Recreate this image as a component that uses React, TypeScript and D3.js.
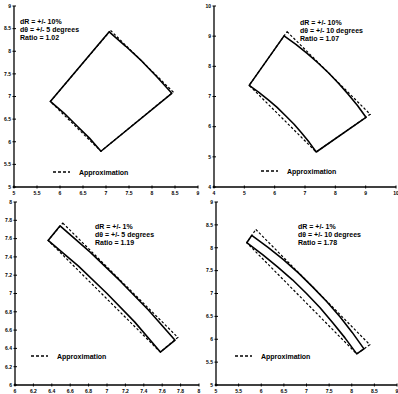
import React from "react";
import * as d3 from "d3";

type Pt = [number, number];

// Panel 1: dR = +/-10%, dθ = +/-5°
const P1_SOLID: Pt[] = [[7.07, 8.43], [7.43, 8.11], [7.78, 7.78], [8.11, 7.43], [8.43, 7.07], [6.89, 5.79], [6.64, 6.08], [6.36, 6.36], [6.08, 6.64], [5.79, 6.89]];
const P1_APPROX: Pt[] = [[7.10, 8.46], [8.46, 7.10], [6.89, 5.79], [5.79, 6.89]];
const P1_LABELS = ["dR = +/- 10%", "dθ = +/- 5 degrees", "Ratio = 1.02"];
const P1_XTICKS = [5, 5.5, 6, 6.5, 7, 7.5, 8, 8.5, 9];
const P1_YTICKS = [5, 5.5, 6, 6.5, 7, 7.5, 8, 8.5, 9];

// Panel 2: dR = +/-10%, dθ = +/-10°
const P2_SOLID: Pt[] = [
  [6.31, 9.01], [6.70, 8.73], [7.07, 8.43], [7.43, 8.11], [7.78, 7.78], [8.11, 7.43], [8.43, 7.07], [8.73, 6.70], [9.01, 6.31],
  [7.37, 5.16], [7.14, 5.48], [6.89, 5.79], [6.64, 6.08], [6.36, 6.36], [6.08, 6.64], [5.79, 6.89], [5.48, 7.14], [5.16, 7.37],
];
const P2_APPROX: Pt[] = [[6.41, 9.15], [9.15, 6.41], [7.37, 5.16], [5.16, 7.37]];
const P2_LABELS = ["dR = +/- 10%", "dθ = +/- 10 degrees", "Ratio = 1.07"];
const P2_XTICKS = [4, 5, 6, 7, 8, 9, 10];
const P2_YTICKS = [4, 5, 6, 7, 8, 9, 10];

// Panel 3: dR = +/-1%, dθ = +/-5°
const P3_SOLID: Pt[] = [[6.49, 7.74], [6.82, 7.45], [7.14, 7.14], [7.45, 6.82], [7.74, 6.49], [7.58, 6.36], [7.30, 6.69], [7.00, 7.00], [6.69, 7.30], [6.36, 7.58]];
const P3_APPROX: Pt[] = [[6.52, 7.77], [7.77, 6.52], [7.58, 6.36], [6.36, 7.58]];
const P3_LABELS = ["dR = +/- 1%", "dθ = +/- 5 degrees", "Ratio = 1.19"];
const P3_XTICKS = [6, 6.2, 6.4, 6.6, 6.8, 7, 7.2, 7.4, 7.6, 7.8, 8];
const P3_YTICKS = [6, 6.2, 6.4, 6.6, 6.8, 7, 7.2, 7.4, 7.6, 7.8, 8];

// Panel 4: dR = +/-1%, dθ = +/-10°
const P4_SOLID: Pt[] = [
  [5.79, 8.27], [6.15, 8.01], [6.49, 7.74], [6.82, 7.45], [7.14, 7.14], [7.45, 6.82], [7.74, 6.49], [8.01, 6.15], [8.27, 5.79],
  [8.11, 5.68], [7.85, 6.03], [7.58, 6.36], [7.30, 6.69], [7.00, 7.00], [6.69, 7.30], [6.36, 7.58], [6.03, 7.85], [5.68, 8.11],
];
const P4_APPROX: Pt[] = [[5.88, 8.40], [8.40, 5.88], [8.11, 5.68], [5.68, 8.11]];
const P4_LABELS = ["dR = +/- 1%", "dθ = +/- 10 degrees", "Ratio = 1.78"];
const P4_XTICKS = [5, 5.5, 6, 6.5, 7, 7.5, 8, 8.5, 9];
const P4_YTICKS = [5, 5.5, 6, 6.5, 7, 7.5, 8, 8.5, 9];

const LEGEND = "Approximation";

type PanelCfg = {
  solid: Pt[];
  approx: Pt[];
  labels: string[];
  xticks: number[];
  yticks: number[];
  x0: number; x1: number; y0: number; y1: number;
  textX: number; textY: number;
  legX: number; legY: number;
};

const panels: PanelCfg[] = [
  { solid: P1_SOLID, approx: P1_APPROX, labels: P1_LABELS, xticks: P1_XTICKS, yticks: P1_YTICKS, x0: 14, x1: 198, y0: 187, y1: 6, textX: 20, textY: 24, legX: 53, legY: 172 },
  { solid: P2_SOLID, approx: P2_APPROX, labels: P2_LABELS, xticks: P2_XTICKS, yticks: P2_YTICKS, x0: 214, x1: 396, y0: 187, y1: 6, textX: 300, textY: 25, legX: 261, legY: 171 },
  { solid: P3_SOLID, approx: P3_APPROX, labels: P3_LABELS, xticks: P3_XTICKS, yticks: P3_YTICKS, x0: 15, x1: 199, y0: 385, y1: 202, textX: 95, textY: 229, legX: 31, legY: 356 },
  { solid: P4_SOLID, approx: P4_APPROX, labels: P4_LABELS, xticks: P4_XTICKS, yticks: P4_YTICKS, x0: 216, x1: 397, y0: 385, y1: 202, textX: 298, textY: 229, legX: 235, legY: 356 },
];

const FONT = "'Liberation Sans', Arial, sans-serif";

function Panel({ cfg }: { cfg: PanelCfg }) {
  const xs = d3.scaleLinear().domain(d3.extent(cfg.xticks) as [number, number]).range([cfg.x0, cfg.x1]);
  const ys = d3.scaleLinear().domain(d3.extent(cfg.yticks) as [number, number]).range([cfg.y0, cfg.y1]);
  const line = d3.line<Pt>().x((d) => xs(d[0])).y((d) => ys(d[1])).curve(d3.curveLinearClosed);
  const fmt = (v: number) => String(v);
  return (
    <g>
      {/* axes */}
      <line x1={cfg.x0} x2={cfg.x0} y1={cfg.y0 + 1} y2={cfg.y1} stroke="#000" strokeWidth={1.3} />
      <line x1={cfg.x0 - 1} x2={cfg.x1} y1={cfg.y0} y2={cfg.y0} stroke="#000" strokeWidth={1.3} />
      {cfg.xticks.map((t) => (
        <g key={"x" + t}>
          <line x1={xs(t)} x2={xs(t)} y1={cfg.y0 - 1.5} y2={cfg.y0 + 1.5} stroke="#000" strokeWidth={1} />
          <text x={xs(t)} y={cfg.y0 + 8} fontSize={5} fontWeight="bold" textAnchor="middle" fontFamily={FONT}>{fmt(t)}</text>
        </g>
      ))}
      {cfg.yticks.map((t) => (
        <g key={"y" + t}>
          <line x1={cfg.x0 - 1.5} x2={cfg.x0 + 2} y1={ys(t)} y2={ys(t)} stroke="#000" strokeWidth={1} />
          <text x={cfg.x0 - 3} y={ys(t) + 1.8} fontSize={5} fontWeight="bold" textAnchor="end" fontFamily={FONT}>{fmt(t)}</text>
        </g>
      ))}
      {/* approximation */}
      <path d={line(cfg.approx) || ""} fill="none" stroke="#000" strokeWidth={1.2} strokeDasharray="2.5,2" />
      {/* true region */}
      <path d={line(cfg.solid) || ""} fill="none" stroke="#000" strokeWidth={1.6} strokeLinejoin="round" />
      {/* annotation */}
      {cfg.labels.map((s, i) => (
        <text key={s} x={cfg.textX} y={cfg.textY + i * 8} fontSize={7} fontWeight="bold" fontFamily={FONT}>{s}</text>
      ))}
      {/* legend */}
      <line x1={cfg.legX} x2={cfg.legX + 17} y1={cfg.legY} y2={cfg.legY} stroke="#000" strokeWidth={1.3} strokeDasharray="3,2" />
      <text x={cfg.legX + 26} y={cfg.legY + 2.5} fontSize={7} fontWeight="bold" fontFamily={FONT}>{LEGEND}</text>
    </g>
  );
}

export default function App() {
  return (
    <svg width={398} height={394} style={{ position: "absolute", left: 0, top: 0, background: "#fff" }}>
      <rect x={0} y={0} width={398} height={394} fill="#fff" />
      {panels.map((p, i) => (
        <Panel key={i} cfg={p} />
      ))}
    </svg>
  );
}
